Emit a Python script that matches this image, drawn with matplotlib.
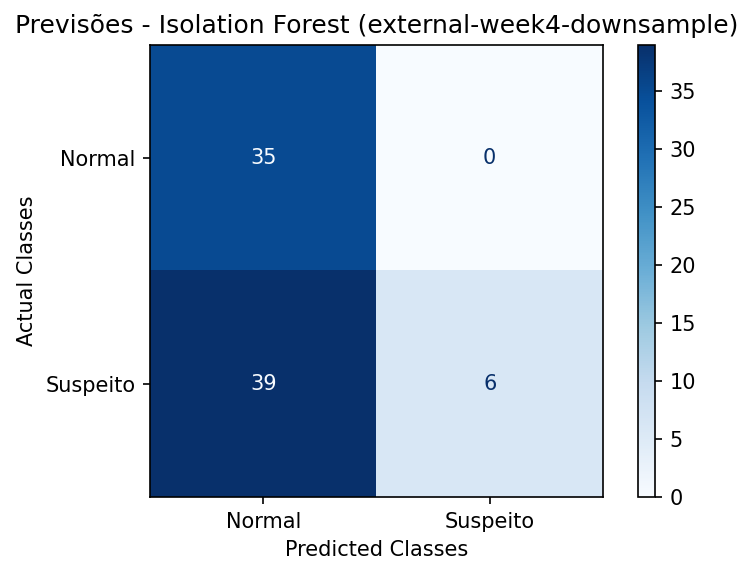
import numpy as np
import matplotlib.pyplot as plt

labels = ["Normal", "Suspeito"]
cm = np.array([[35, 0],
               [39, 6]])

fig = plt.figure(figsize=(5.02, 3.847), dpi=150)
ax = fig.add_axes([150/753, 80/577, 453/753, 452/577])
cax = fig.add_axes([638/753, 80/577, 17/753, 452/577])

cmap = plt.cm.Blues
im = ax.imshow(cm, cmap=cmap, interpolation="nearest", aspect="auto")
fig.colorbar(im, cax=cax)

thresh = (cm.max() + cm.min()) / 2.0
for i in range(cm.shape[0]):
    for j in range(cm.shape[1]):
        color = cmap(0.0) if cm[i, j] > thresh else cmap(1.0)
        ax.text(j, i, str(cm[i, j]), ha="center", va="center", color=color)

ax.set_xticks(range(len(labels)), labels)
ax.set_yticks(range(len(labels)), labels)
ax.set_xlabel("Predicted Classes")
ax.set_ylabel("Actual Classes")
ax.set_title("Previsões - Isolation Forest (external-week4-downsample)")

fig.savefig("out.png", dpi=150)
